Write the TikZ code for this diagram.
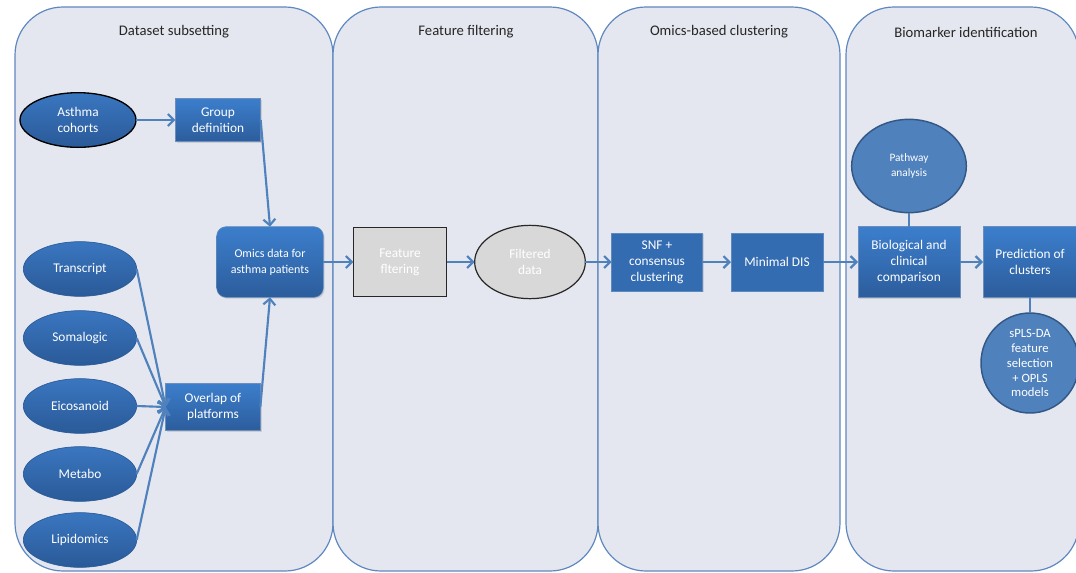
\documentclass[tikz,border=0pt]{standalone}
\usepackage{fontspec}
\setmainfont{Carlito}
\usetikzlibrary{arrows.meta,shapes.geometric,shadows}
\definecolor{panelfill}{RGB}{228,231,239}
\definecolor{panelline}{RGB}{96,136,192}
\definecolor{arrowc}{RGB}{79,129,189}
\definecolor{boxtop}{RGB}{60,126,204}
\definecolor{boxbot}{RGB}{44,93,156}
\definecolor{flatbox}{RGB}{52,108,178}
\definecolor{elltop}{RGB}{58,118,192}
\definecolor{ellbot}{RGB}{42,90,152}
\definecolor{lightell}{RGB}{79,129,189}
\definecolor{ellline}{RGB}{52,88,134}
\definecolor{grayfill}{RGB}{216,216,216}
\begin{document}
\begin{tikzpicture}[x=0.75pt,y=-0.75pt,
 panel/.style={draw=panelline,line width=0.9pt,fill=panelfill,rounded corners=36pt},
 title/.style={font=\fontsize{11}{13}\selectfont,text=black!85},
 base/.style={text=white,align=center,inner sep=1pt,outer sep=0pt,font=\fontsize{10}{12}\selectfont},
 box/.style={base,rectangle,top color=boxtop,bottom color=boxbot,draw=boxbot!70!white,line width=0.4pt,
   drop shadow={opacity=0.25,shadow xshift=1pt,shadow yshift=-1pt}},
 flat/.style={base,rectangle,fill=flatbox,draw=flatbox!80!white,line width=0.4pt,
   drop shadow={opacity=0.25,shadow xshift=1pt,shadow yshift=-1pt}},
 omell/.style={base,ellipse,top color=elltop,bottom color=ellbot,draw=ellbot,line width=0.5pt,
   minimum width=85pt,minimum height=41pt},
 lell/.style={base,ellipse,fill=lightell,draw=ellline,line width=1.1pt},
 grey/.style={base,fill=grayfill,draw=black!85,line width=0.9pt},
 conn/.style={draw=arrowc,line width=1.6pt,-{Straight Barb[length=4.5pt,width=9pt]}},
 plain/.style={draw=arrowc,line width=1.6pt}
]
\useasboundingbox (0,0) rectangle (1076,572);
\fill[white] (0,0) rectangle (1076,572);
% panels
\draw[panel] (15,7) rectangle (333,571);
\draw[panel] (333,7) rectangle (598,571);
\draw[panel] (598,7) rectangle (840,571);
\draw[panel] (846,7) rectangle (1079,571);
\node[title] (t1) at (174,32) {Dataset subsetting};
\node[title] (t2) at (466,32) {Feature filtering};
\node[title] (t3) at (719,32) {Omics-based clustering};
\node[title] (t4) at (966,32) {Biomarker identification};
% nodes panel 1
\node[base,ellipse,top color=elltop,bottom color=ellbot,draw=black,line width=1pt,
  minimum width=87pt,minimum height=41pt] (asthma) at (78,120) {Asthma\\cohorts};
\node[box,minimum width=64pt,minimum height=32pt] (group) at (218,120) {Group\\definition};
\node[box,rounded corners=7pt,minimum width=80pt,minimum height=53pt,
  font=\fontsize{9}{12}\selectfont] (omics) at (270,262) {Omics data for\\asthma patients};
\node[omell] (tr) at (80,269) {Transcript};
\node[omell] (so) at (80,338) {Somalogic};
\node[omell] (ei) at (80,406) {Eicosanoid};
\node[omell] (me) at (80,474) {Metabo};
\node[omell] (li) at (80,540) {Lipidomics};
\node[box,minimum width=71pt,minimum height=35pt] (overlap) at (213,407) {Overlap of\\platforms};
% panel 2
\node[grey,rectangle,minimum width=70pt,minimum height=52pt] (ff) at (400,262) {Feature\\fltering};
\node[grey,ellipse,minimum width=83pt,minimum height=55pt] (fd) at (530,262) {Filtered\\data};
% panel 3
\node[flat,minimum width=68pt,minimum height=43.5pt] (snf) at (657,262) {SNF +\\consensus\\clustering};
\node[flat,minimum width=69pt,minimum height=43.5pt] (dis) at (777,262) {Minimal DIS};
% panel 4
\node[box,minimum width=76.5pt,minimum height=53pt] (bio) at (909,262) {Biological and\\clinical\\comparison};
\node[box,minimum width=70.5pt,minimum height=53pt] (pred) at (1030,262) {Prediction of\\clusters};
\node[lell,minimum width=86pt,minimum height=70pt,font=\fontsize{8.5}{11}\selectfont] (path) at (909,166) {Pathway\\analysis};
\node[lell,minimum width=73.5pt,minimum height=65pt,font=\fontsize{9.5}{11.2}\selectfont] (spls) at (1030,363) {sPLS-DA\\feature\\selection\\+ OPLS\\models};
% connectors
\draw[conn] (asthma) -- (group);
\draw[conn] (group.east) -- (omics.north);
\foreach \n in {tr,so,ei,me,li} \draw[conn] (\n.east) -- (overlap.west);
\draw[conn] (overlap.east) -- (omics.south);
\draw[conn] (omics) -- (ff);
\draw[conn] (ff) -- (fd);
\draw[conn] (fd) -- (snf);
\draw[conn] (snf) -- (dis);
\draw[conn] (dis) -- (bio);
\draw[conn] (bio) -- (pred);
\draw[plain] (path) -- (bio);
\draw[plain] (pred) -- (spls);
\end{tikzpicture}
\end{document}
